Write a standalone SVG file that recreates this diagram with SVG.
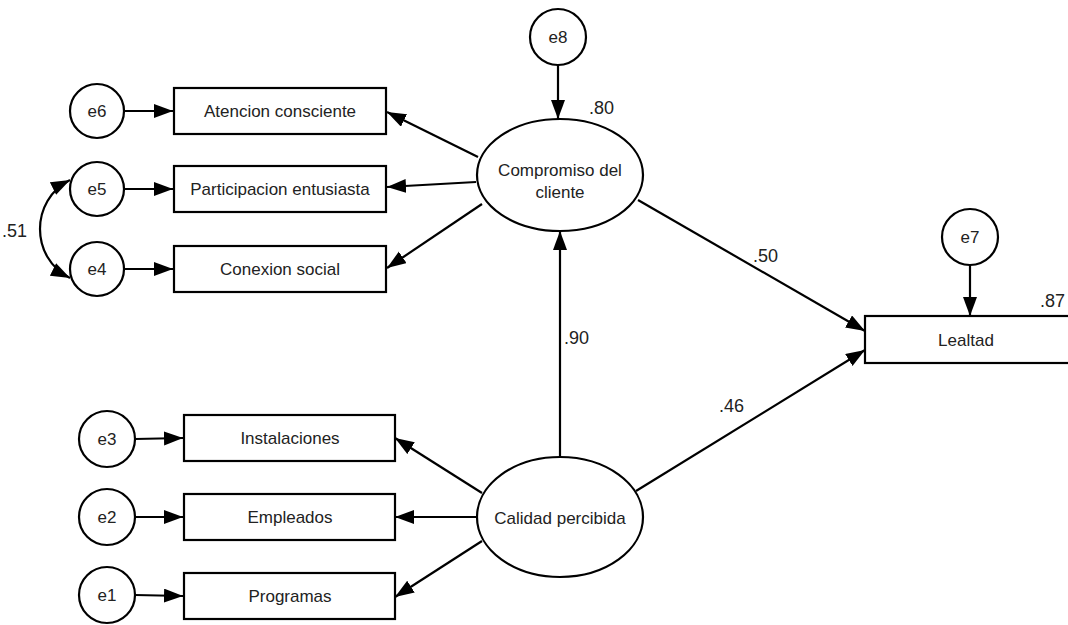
<svg xmlns="http://www.w3.org/2000/svg" width="1068" height="625" viewBox="0 0 1068 625">
<defs>
<marker id="ah" markerUnits="userSpaceOnUse" markerWidth="22" markerHeight="16" refX="19" refY="7" orient="auto-start-reverse" viewBox="0 0 22 16">
<path d="M0,0 L19,7 L0,14 z" fill="#000"/>
</marker>
</defs>
<style>
.n{fill:#fff;stroke:#000;stroke-width:2.2}
.t{font-family:"Liberation Sans",Arial,sans-serif;font-size:17px;fill:#222;text-anchor:middle;dominant-baseline:central}
.v{font-family:"Liberation Sans",Arial,sans-serif;font-size:18px;fill:#222}
.c{fill:none;stroke:#000;stroke-width:2.2;marker-end:url(#ah)}
</style>
<rect width="1068" height="625" fill="#fff"/>
<g id="connectors">
<line class="c" x1="125" y1="111" x2="173" y2="111"/>
<line class="c" x1="125" y1="189" x2="173" y2="189"/>
<line class="c" x1="125" y1="269" x2="173" y2="269"/>
<line class="c" x1="135" y1="439" x2="183" y2="438"/>
<line class="c" x1="135" y1="517" x2="183" y2="517"/>
<line class="c" x1="135" y1="595" x2="183" y2="596"/>
<line class="c" x1="558" y1="65" x2="558" y2="119"/>
<line class="c" x1="970" y1="265" x2="970" y2="316"/>
<line class="c" x1="478" y1="157" x2="387" y2="112"/>
<line class="c" x1="476" y1="182" x2="387" y2="187"/>
<line class="c" x1="482" y1="204" x2="387" y2="268"/>
<line class="c" x1="482" y1="493" x2="395" y2="438"/>
<line class="c" x1="477" y1="517" x2="395" y2="517"/>
<line class="c" x1="482" y1="541" x2="395" y2="597"/>
<line class="c" x1="560" y1="457" x2="560" y2="231"/>
<line class="c" x1="638" y1="200" x2="865" y2="331"/>
<line class="c" x1="636" y1="491" x2="865" y2="350"/>
<path class="c" d="M70 180 C30 200 30 258 70 278" style="marker-start:url(#ah)"/>
</g>
<g id="e6"><circle class="n" cx="97" cy="111" r="27"/><text class="t" x="97" y="111">e6</text></g>
<g id="e5"><circle class="n" cx="97" cy="189" r="27"/><text class="t" x="97" y="189">e5</text></g>
<g id="e4"><circle class="n" cx="97" cy="269" r="27"/><text class="t" x="97" y="269">e4</text></g>
<g id="e3"><circle class="n" cx="107" cy="439" r="28"/><text class="t" x="107" y="439">e3</text></g>
<g id="e2"><circle class="n" cx="107" cy="517" r="28"/><text class="t" x="107" y="517">e2</text></g>
<g id="e1"><circle class="n" cx="107" cy="595" r="28"/><text class="t" x="107" y="595">e1</text></g>
<g id="e8"><circle class="n" cx="558" cy="37" r="28"/><text class="t" x="558" y="37">e8</text></g>
<g id="e7"><circle class="n" cx="970" cy="237" r="28"/><text class="t" x="970" y="237">e7</text></g>
<g id="atencion"><rect class="n" x="174" y="88" width="212" height="46"/><text class="t" x="280" y="111">Atencion consciente</text></g>
<g id="participacion"><rect class="n" x="174" y="166" width="212" height="46"/><text class="t" x="280" y="189">Participacion entusiasta</text></g>
<g id="conexion"><rect class="n" x="174" y="246" width="212" height="46"/><text class="t" x="280" y="269">Conexion social</text></g>
<g id="instalaciones"><rect class="n" x="184" y="415" width="211" height="46"/><text class="t" x="290" y="438">Instalaciones</text></g>
<g id="empleados"><rect class="n" x="184" y="494" width="211" height="46"/><text class="t" x="290" y="517">Empleados</text></g>
<g id="programas"><rect class="n" x="184" y="573" width="211" height="46"/><text class="t" x="290" y="596">Programas</text></g>
<g id="compromiso"><ellipse class="n" cx="560" cy="175" rx="83" ry="56"/><text class="t" x="560" y="170">Compromiso del</text><text class="t" x="560" y="192">cliente</text></g>
<g id="calidad"><ellipse class="n" cx="560" cy="517" rx="83" ry="60"/><text class="t" x="560" y="518">Calidad percibida</text></g>
<g id="lealtad"><rect class="n" x="865" y="316" width="210" height="47"/><text class="t" x="966" y="340">Lealtad</text></g>
<g id="labels">
<text class="v" x="589" y="114">.80</text>
<text class="v" x="1040" y="307">.87</text>
<text class="v" x="2" y="237">.51</text>
<text class="v" x="753" y="262">.50</text>
<text class="v" x="564" y="344">.90</text>
<text class="v" x="719" y="412">.46</text>
</g>
</svg>
